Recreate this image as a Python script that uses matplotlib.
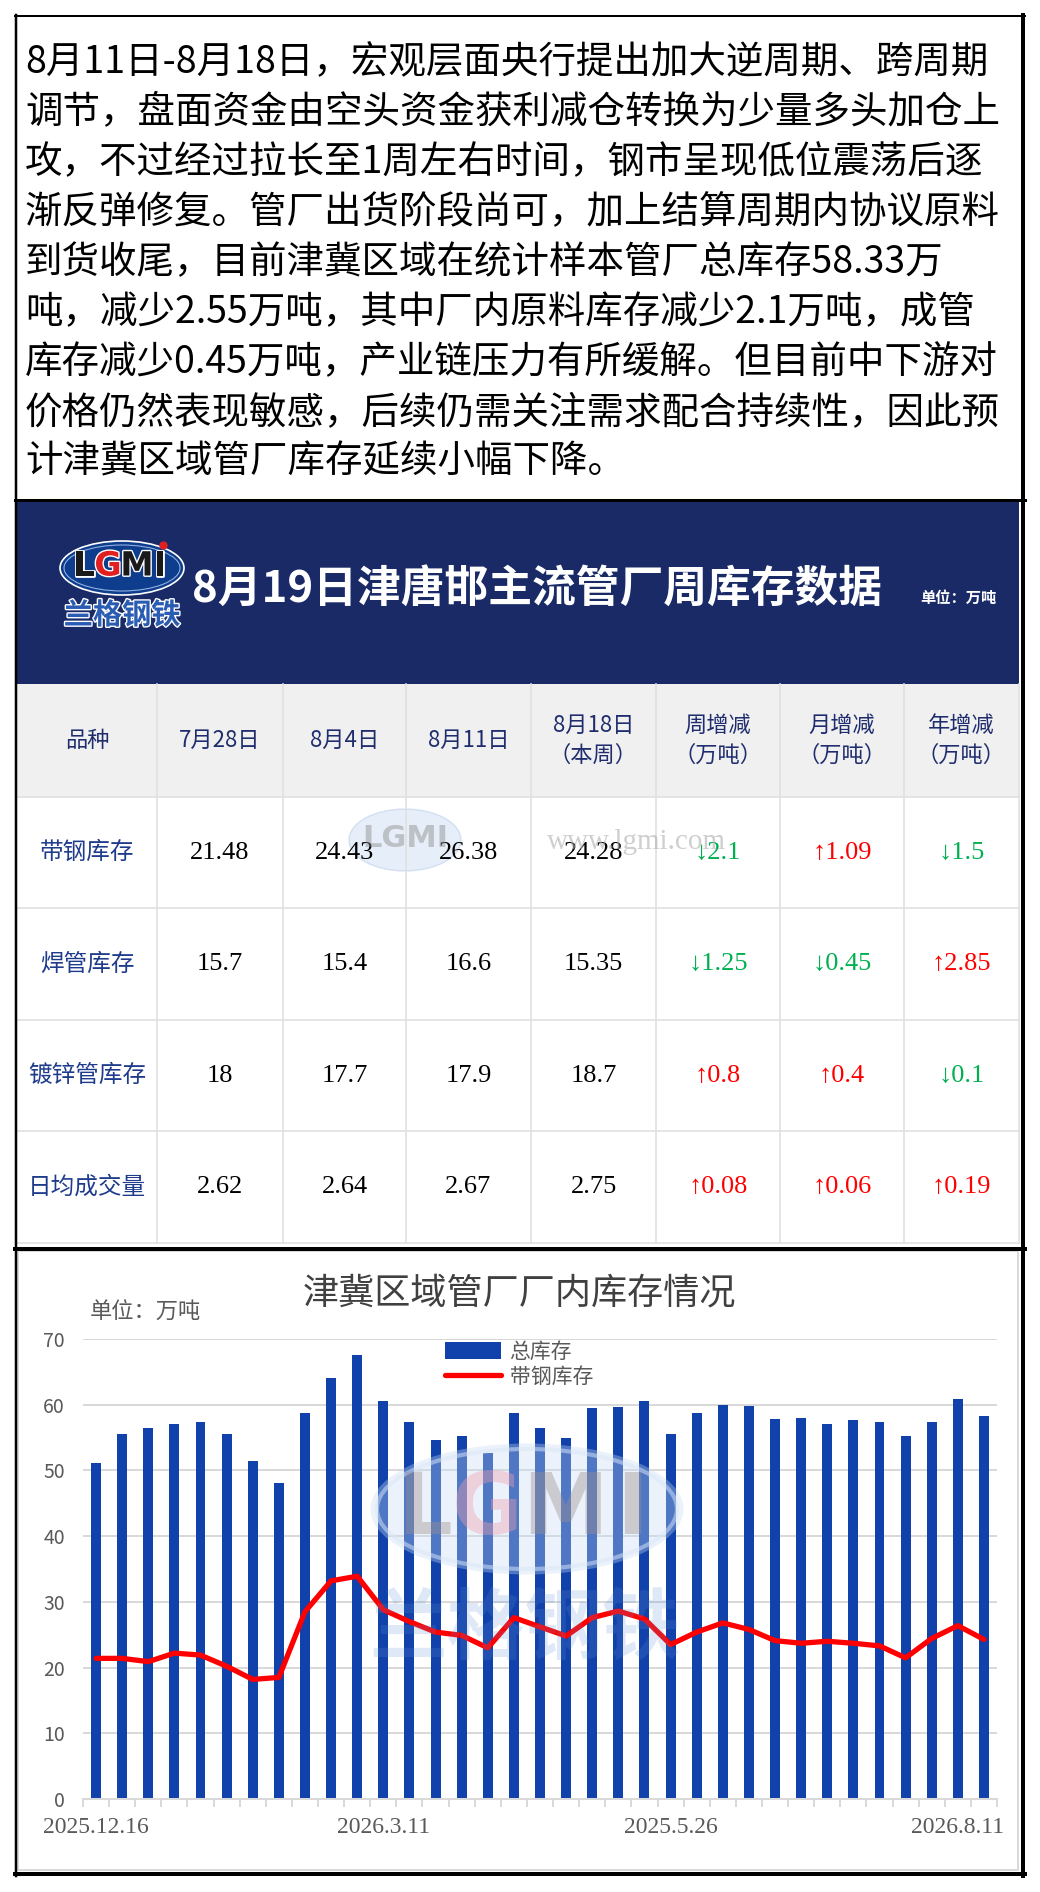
import numpy as np
import matplotlib
matplotlib.use("Agg")
import matplotlib.pyplot as plt
from matplotlib.patches import Rectangle, Ellipse
import matplotlib.patheffects as pe

plt.rcParams['font.family'] = ['Noto Sans CJK SC', 'DejaVu Sans']
CJK = ['Noto Sans CJK SC', 'DejaVu Sans']
SERIF = ['Liberation Serif', 'DejaVu Sans']

# ---- data ----
note_lines = [
    "8月11日-8月18日，宏观层面央行提出加大逆周期、跨周期",
    "调节，盘面资金由空头资金获利减仓转换为少量多头加仓上",
    "攻，不过经过拉长至1周左右时间，钢市呈现低位震荡后逐",
    "渐反弹修复。管厂出货阶段尚可，加上结算周期内协议原料",
    "到货收尾，目前津冀区域在统计样本管厂总库存58.33万",
    "吨，减少2.55万吨，其中厂内原料库存减少2.1万吨，成管",
    "库存减少0.45万吨，产业链压力有所缓解。但目前中下游对",
    "价格仍然表现敏感，后续仍需关注需求配合持续性，因此预",
    "计津冀区域管厂库存延续小幅下降。",
]

table_title = "8月19日津唐邯主流管厂周库存数据"
col_headers = ["品种", "7月28日", "8月4日", "8月11日", "8月18日\n（本周）",
               "周增减\n（万吨）", "月增减\n（万吨）", "年增减\n（万吨）"]
row_names = ["带钢库存", "焊管库存", "镀锌管库存", "日均成交量"]
week_vals = [
    ["21.48", "24.43", "26.38", "24.28"],
    ["15.7", "15.4", "16.6", "15.35"],
    ["18", "17.7", "17.9", "18.7"],
    ["2.62", "2.64", "2.67", "2.75"],
]
changes = [
    [-2.1, 1.09, -1.5],
    [-1.25, -0.45, 2.85],
    [0.8, 0.4, -0.1],
    [0.08, 0.06, 0.19],
]
change_txt = [
    ["2.1", "1.09", "1.5"],
    ["1.25", "0.45", "2.85"],
    ["0.8", "0.4", "0.1"],
    ["0.08", "0.06", "0.19"],
]

chart_title = "津冀区域管厂厂内库存情况"
total_stock = [51.2, 55.5, 56.4, 57.0, 57.3, 55.6, 51.4, 48.1, 58.8, 64.1,
               67.5, 60.5, 57.3, 54.7, 55.2, 52.7, 58.8, 56.5, 55.0, 59.5,
               59.6, 60.5, 55.6, 58.7, 60.0, 59.8, 57.9, 58.0, 57.0, 57.6,
               57.3, 55.2, 57.4, 60.8, 58.33]
strip_stock = [21.4, 21.4, 20.9, 22.2, 21.9, 20.2, 18.2, 18.5, 28.5, 33.2,
               33.9, 28.8, 27.0, 25.4, 24.9, 23.0, 27.6, 26.2, 24.8, 27.6,
               28.6, 27.4, 23.5, 25.4, 26.8, 25.8, 24.1, 23.7, 24.0, 23.7,
               23.3, 21.48, 24.43, 26.38, 24.28]
x_labels = {0: "2025.12.16", 11: "2026.3.11", 22: "2025.5.26", 33: "2026.8.11"}

W, H = 1040, 1892
fig = plt.figure(figsize=(W / 100, H / 100), dpi=100)
fig.patch.set_facecolor('white')

# background axes in pixel coordinates
bg = fig.add_axes([0, 0, 1, 1])
bg.set_xlim(0, W)
bg.set_ylim(H, 0)
bg.axis('off')

# ---- text box ----
for i, line in enumerate(note_lines):
    bg.text(25, 63 + 49.9 * i, line, fontsize=27, color='black',
            va='center', ha='left', family=CJK)

# ---- table header band ----
navy = '#192a66'
bg.add_patch(Rectangle((17, 502), 1002, 182, facecolor=navy, edgecolor='none'))
bg.text(537, 590, table_title, color='white', fontsize=31.5, fontweight='bold',
        ha='center', va='center', family=CJK)
bg.text(958, 598, "单位：万吨", color='white', fontsize=11, fontweight='bold',
        ha='center', va='center', family=CJK)

# logo
bg.add_patch(Ellipse((122, 568), 124, 54, facecolor='#0d3d8c', edgecolor='white', lw=1.2))
bg.add_patch(Ellipse((122, 568), 116, 46, facecolor='none', edgecolor='#8fb0e0', lw=0.8))
for ch, xx, cc in [("L", 84, '#1a1a1a'), ("G", 108, '#e02020'), ("M", 137, '#1a1a1a'), ("I", 160, '#1a1a1a')]:
    bg.text(xx, 566, ch, fontsize=24, fontweight='bold', color=cc, ha='center', va='center',
            family=['DejaVu Sans'],
            path_effects=[pe.withStroke(linewidth=2, foreground='white')])
bg.plot([163], [545], marker='o', ms=5, color='#e02020')
bg.text(122, 615, "兰格钢铁", fontsize=21, color='#2a5cb3', ha='center', va='center',
        family=CJK, fontweight='bold',
        path_effects=[pe.withStroke(linewidth=2, foreground='white')])

# ---- table ----
col_edges = [17, 157, 283, 406, 531, 656, 780, 904, 1019]
row_edges = [684, 797, 908, 1020, 1131, 1243]
bg.add_patch(Rectangle((17, 684), 1002, 113, facecolor='#f0f0f0', edgecolor='none'))
grid_c = '#e0e0e0'
for xe in col_edges[1:]:
    bg.plot([xe, xe], [684, 1243], color=grid_c, lw=1.2)
for ye in row_edges[1:]:
    bg.plot([17, 1019], [ye, ye], color=grid_c, lw=1.2)

head_c = '#1f2d6e'
for j, lab in enumerate(col_headers):
    cx = (col_edges[j] + col_edges[j + 1]) / 2
    parts = lab.split("\n")
    if len(parts) == 1:
        bg.text(cx, 740, parts[0], fontsize=16, color=head_c, ha='center', va='center', family=CJK)
    else:
        bg.text(cx, 725, parts[0], fontsize=16, color=head_c, ha='center', va='center', family=CJK)
        bg.text(cx, 755, parts[1], fontsize=16, color=head_c, ha='center', va='center', family=CJK)

for i, name in enumerate(row_names):
    cy = (row_edges[i + 1] + row_edges[i + 2]) / 2
    bg.text(87, cy, name, fontsize=17, color='#1f3c8c', ha='center', va='center', family=CJK)
    for j, v in enumerate(week_vals[i]):
        cx = (col_edges[j + 1] + col_edges[j + 2]) / 2
        bg.text(cx, cy, v, fontsize=19, color='black', ha='center', va='center', family=SERIF)
    for j, v in enumerate(changes[i]):
        cx = (col_edges[j + 5] + col_edges[j + 6]) / 2
        up = v > 0
        bg.text(cx, cy, ("↑" if up else "↓") + change_txt[i][j], fontsize=19,
                color='#ff0000' if up else '#00b050', ha='center', va='center', family=SERIF)

# table watermark
bg.add_patch(Ellipse((405, 840), 112, 62, facecolor='#b8cfee', edgecolor='#9bb8e0', alpha=0.35, lw=1))
bg.text(405, 838, "LGMI", fontsize=22, fontweight='bold', color='#8a8a8a', alpha=0.45,
        ha='center', va='center', family=['DejaVu Sans'])
bg.text(636, 842, "www.lgmi.com", fontsize=21, color='#b0b0b0', alpha=0.6,
        ha='center', va='center', family=SERIF)

# ---- frame lines ----
k = 0.72
bg.add_patch(Rectangle((18, 1251), 1000, 619, facecolor='white', edgecolor='#d9d9d9', lw=2 * k))
bg.plot([15, 1025], [16, 16], color='black', lw=2 * k)
bg.plot([16, 16], [15, 1876], color='black', lw=2.5 * k)
bg.plot([1023, 1023], [15, 1876], color='black', lw=4 * k)
bg.plot([15, 1025], [1874, 1874], color='black', lw=4 * k)
bg.plot([15, 1025], [500.5, 500.5], color='black', lw=3 * k)
bg.plot([15, 1025], [1249, 1249], color='black', lw=4 * k)

# chart title and unit
bg.text(519, 1293, chart_title, fontsize=26, color='#404040', ha='center', va='center', family=CJK)
bg.text(90, 1312, "单位：万吨", fontsize=16, color='#595959', ha='left', va='center', family=CJK)

# ---- bar / line chart ----
ax = fig.add_axes([83 / W, (H - 1799) / H, (997 - 83) / W, (1799 - 1339) / H])
ax.set_facecolor('none')
x = np.arange(len(total_stock))
bars = ax.bar(x, total_stock, width=0.38, color='#1141aa', zorder=2)
line, = ax.plot(x, strip_stock, color='#ff0000', lw=3.8, solid_joinstyle='round',
                solid_capstyle='round', zorder=3)
ax.set_xlim(-0.5, len(total_stock) - 0.5)
ax.set_ylim(0, 70)
ax.set_yticks(np.arange(0, 71, 10))
ax.yaxis.grid(True, color='#d9d9d9', lw=2 * k, zorder=0)
ax.set_axisbelow(True)
for s in ['top', 'right', 'left']:
    ax.spines[s].set_visible(False)
ax.spines['bottom'].set_color('#d9d9d9')
ax.spines['bottom'].set_linewidth(2 * k)
ax.tick_params(axis='y', length=0, pad=13, labelsize=14, labelcolor='#595959')
ax.set_xticks(list(x_labels.keys()))
ax.set_xticklabels(list(x_labels.values()), fontsize=17, color='#595959', family=SERIF)
ax.set_xticks(np.arange(-0.5, len(total_stock), 1), minor=True)
ax.tick_params(axis='x', which='major', length=0, pad=13)
ax.tick_params(axis='x', which='minor', length=6, width=2 * k, color='#d9d9d9', direction='out')

ax.legend([bars, line], ["总库存", "带钢库存"], loc='upper left',
          bbox_to_anchor=(445 / W, 1 - 1341 / H), bbox_transform=fig.transFigure,
          frameon=False, borderpad=0, borderaxespad=0, handlelength=2.7,
          handleheight=0.9, labelspacing=0.15, handletextpad=0.4,
          fontsize=15, labelcolor='#595959')

# chart watermark overlay
ov = fig.add_axes([0, 0, 1, 1], zorder=10)
ov.set_xlim(0, W)
ov.set_ylim(H, 0)
ov.axis('off')
ov.patch.set_alpha(0)
ov.add_patch(Ellipse((527, 1509), 313, 131, facecolor='#c6dcf5', edgecolor='none', alpha=0.35))
ov.add_patch(Ellipse((527, 1509), 300, 120, facecolor='none', edgecolor='#dbe8f8', lw=3, alpha=0.5))
for ch, xx, cc in [("L", 425, '#9a8f8f'), ("G", 487, '#f0a0b0'), ("M", 565, '#9a8f8f'), ("I", 632, '#9a8f8f')]:
    ov.text(xx, 1510, ch, fontsize=62, fontweight='bold', color=cc, alpha=0.4,
            ha='center', va='center', family=['DejaVu Sans'])
ov.text(525, 1630, "兰格钢铁", fontsize=56, color='#5b8fd6', alpha=0.2, ha='center',
        va='center', family=CJK, fontweight='bold')

fig.savefig("out.png", dpi=100)
